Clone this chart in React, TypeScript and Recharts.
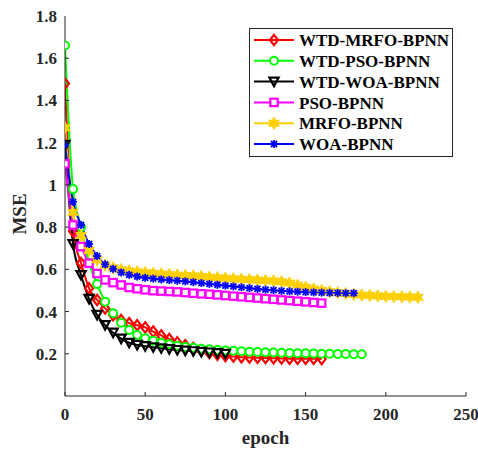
import React from 'react'
import { LineChart, Line, XAxis, YAxis, Legend, Label } from 'recharts'

// MSE per training epoch, one value every 5 epochs
const EPOCH_STEP = 5
const wtdMrfo = [
  1.48, 0.78, 0.63, 0.51, 0.455, 0.415, 0.383, 0.36, 0.345, 0.335,
  0.325, 0.305, 0.287, 0.27, 0.254, 0.24, 0.227, 0.215, 0.204, 0.196,
  0.19, 0.187, 0.184, 0.182, 0.181, 0.18, 0.179, 0.178, 0.177, 0.177,
  0.176, 0.176, 0.175,
]
const wtdPso = [
  1.66, 0.98, 0.8, 0.63, 0.53, 0.447, 0.392, 0.347, 0.313, 0.289,
  0.273, 0.262, 0.252, 0.245, 0.238, 0.232, 0.228, 0.224, 0.221, 0.218,
  0.216, 0.214, 0.212, 0.21, 0.208, 0.207, 0.206, 0.205, 0.204, 0.203,
  0.202, 0.201, 0.2, 0.2, 0.199, 0.199, 0.198, 0.198,
]
const wtdWoa = [
  1.19, 0.72, 0.573, 0.46, 0.384, 0.336, 0.3, 0.272, 0.252, 0.242,
  0.236, 0.231, 0.226, 0.222, 0.218, 0.215, 0.212, 0.209, 0.206, 0.203,
  0.2,
]
const pso = [
  1.1, 0.81, 0.708, 0.629, 0.58, 0.55, 0.537, 0.526, 0.514, 0.508,
  0.503, 0.499, 0.497, 0.495, 0.493, 0.49, 0.487, 0.484, 0.482, 0.479,
  0.476, 0.473, 0.47, 0.467, 0.464, 0.461, 0.458, 0.455, 0.452, 0.449,
  0.446, 0.443, 0.44,
]
const mrfo = [
  1.27, 0.87, 0.76, 0.69, 0.645, 0.62, 0.607, 0.598, 0.592, 0.588,
  0.584, 0.581, 0.578, 0.575, 0.573, 0.571, 0.569, 0.566, 0.563, 0.56,
  0.558, 0.555, 0.553, 0.551, 0.549, 0.547, 0.545, 0.541, 0.535, 0.525,
  0.515, 0.507, 0.5, 0.494, 0.489, 0.485, 0.481, 0.478, 0.476, 0.474,
  0.472, 0.471, 0.47, 0.469, 0.468,
]
const woa = [
  1.19, 0.92, 0.81, 0.72, 0.663, 0.624, 0.602, 0.585, 0.574, 0.566,
  0.56, 0.556, 0.552, 0.549, 0.546, 0.543, 0.539, 0.535, 0.531, 0.527,
  0.523, 0.519, 0.515, 0.511, 0.507, 0.504, 0.501, 0.498, 0.496, 0.494,
  0.492, 0.491, 0.49, 0.489, 0.488, 0.487, 0.487,
]

const xTicks = [0, 50, 100, 150, 200, 250]
const yTicks = [0.2, 0.4, 0.6, 0.8, 1, 1.2, 1.4, 1.6, 1.8]

type Marker = 'diamond' | 'circle' | 'triangle' | 'square' | 'star' | 'asterisk'

const series: { name: string; values: number[]; color: string; marker: Marker }[] = [
  { name: 'WTD-MRFO-BPNN', values: wtdMrfo, color: '#ff0000', marker: 'diamond' },
  { name: 'WTD-PSO-BPNN', values: wtdPso, color: '#00ff00', marker: 'circle' },
  { name: 'WTD-WOA-BPNN', values: wtdWoa, color: '#000000', marker: 'triangle' },
  { name: 'PSO-BPNN', values: pso, color: '#ff00ff', marker: 'square' },
  { name: 'MRFO-BPNN', values: mrfo, color: '#ffd000', marker: 'star' },
  { name: 'WOA-BPNN', values: woa, color: '#0000ff', marker: 'asterisk' },
]

const FONT = '"Liberation Serif", "Times New Roman", serif'
const AXIS = '#262626'
const TICK_IN = 4

function drawMarker(kind: Marker, cx: number, cy: number, color: string, key?: React.Key) {
  switch (kind) {
    case 'diamond':
      return <polygon key={key} points={`${cx},${cy - 5.2} ${cx + 4},${cy} ${cx},${cy + 5.2} ${cx - 4},${cy}`}
        fill="none" stroke={color} strokeWidth={2.2} />
    case 'circle':
      return <circle key={key} cx={cx} cy={cy} r={4} fill="#fff" stroke={color} strokeWidth={2} />
    case 'triangle':
      return <polygon key={key} points={`${cx - 4.6},${cy - 4} ${cx + 4.6},${cy - 4} ${cx},${cy + 4.5}`}
        fill="none" stroke={color} strokeWidth={2.2} />
    case 'square':
      return <rect key={key} x={cx - 3.7} y={cy - 3.7} width={7.4} height={7.4} fill="#fff" stroke={color} strokeWidth={2.2} />
    case 'star': {
      const pts: string[] = []
      for (let i = 0; i < 12; i++) {
        const r = i % 2 === 0 ? 6.2 : 3.2
        const a = (Math.PI / 6) * i - Math.PI / 2
        pts.push(`${cx + r * Math.cos(a)},${cy + r * Math.sin(a)}`)
      }
      return <polygon key={key} points={pts.join(' ')} fill={color} stroke={color} strokeWidth={1} />
    }
    default:
      return (
        <g key={key} stroke={color} strokeWidth={1.8}>
          <line x1={cx - 4} x2={cx + 4} y1={cy} y2={cy} />
          <line x1={cx} x2={cx} y1={cy - 4} y2={cy + 4} />
          <line x1={cx - 3} x2={cx + 3} y1={cy - 3} y2={cy + 3} />
          <line x1={cx - 3} x2={cx + 3} y1={cy + 3} y2={cy - 3} />
        </g>
      )
  }
}

const tickText = { fontFamily: FONT, fontWeight: 700, fontSize: 17, fill: AXIS }

function BottomTick({ x, y, payload }: any) {
  const axisY = y - 12
  return (
    <g>
      <line x1={x} x2={x} y1={axisY} y2={axisY - TICK_IN} stroke={AXIS} />
      <text x={x} y={y} dy="0.71em" textAnchor="middle" style={tickText}>{payload.value}</text>
    </g>
  )
}

function LeftTick({ x, y, payload }: any) {
  const axisX = x + 8
  return (
    <g>
      {payload.value > 0 && payload.value < 1.8 && (
        <line x1={axisX} x2={axisX + TICK_IN} y1={y} y2={y} stroke={AXIS} />
      )}
      <text x={x} y={y} dy="0.355em" textAnchor="end" style={tickText}>{payload.value}</text>
    </g>
  )
}

function TopTick({ x, y }: any) {
  return <line x1={x} x2={x} y1={y} y2={y + TICK_IN} stroke={AXIS} />
}

function RightTick({ x, y, payload }: any) {
  if (payload.value >= 1.8) return <g />
  return <line x1={x} x2={x - TICK_IN} y1={y} y2={y} stroke={AXIS} />
}

function MseLabel({ viewBox }: any) {
  const cx = viewBox.x + 19
  const cy = viewBox.y + viewBox.height / 2 + 8
  return (
    <text x={0} y={0} transform={`translate(${cx},${cy}) rotate(-90)`} textAnchor="middle"
      dominantBaseline="central" style={{ fontFamily: FONT, fontWeight: 700, fontSize: 19, fill: AXIS }}>
      MSE
    </text>
  )
}

function LegendBox() {
  const w = 204
  const h = 129
  return (
    <svg width={w} height={h} style={{ display: 'block' }}>
      <rect x={0.5} y={0.5} width={w - 1} height={h - 1} fill="#fff" stroke={AXIS} strokeWidth={1} />
      {series.map((s, i) => {
        const cy = 12 + i * 20.8
        return (
          <g key={s.name}>
            <line x1={5} x2={45} y1={cy} y2={cy} stroke={s.color} strokeWidth={2} />
            {drawMarker(s.marker, 25, cy, s.color)}
            <text x={50} y={cy} dy="0.36em" style={{ ...tickText, fill: '#000' }}>{s.name}</text>
          </g>
        )
      })}
    </svg>
  )
}

export default function App() {
  return (
    <div style={{ position: 'absolute', left: 0, top: 0, width: 478, height: 451, background: '#fff' }}>
      <LineChart width={478} height={451} margin={{ top: 16, right: 12, left: 0, bottom: 0 }}
        style={{ fontFamily: FONT }}>
        <XAxis type="number" dataKey="epoch" domain={[0, 250]} ticks={xTicks} interval={0}
          height={55} tickSize={0} tickMargin={12} tick={(p: any) => <BottomTick {...p} />}
          axisLine={{ stroke: AXIS }} tickLine={false} allowDataOverflow>
          <Label value="epoch" position="insideBottom" offset={7}
            style={{ fontFamily: FONT, fontWeight: 700, fontSize: 19, fill: AXIS }} />
        </XAxis>
        <XAxis xAxisId="top" orientation="top" type="number" domain={[0, 250]} ticks={xTicks}
          interval={0} height={0} tickSize={0} tickMargin={0} tick={(p: any) => <TopTick {...p} />}
          axisLine={{ stroke: AXIS }} tickLine={false} allowDataOverflow />
        <YAxis type="number" domain={[0, 1.8]} ticks={yTicks} interval={0} width={65}
          tickSize={0} tickMargin={8} tick={(p: any) => <LeftTick {...p} />}
          axisLine={{ stroke: AXIS }} tickLine={false} allowDataOverflow>
          <Label content={(p: any) => <MseLabel {...p} />} />
        </YAxis>
        <YAxis yAxisId="right" orientation="right" type="number" domain={[0, 1.8]} ticks={yTicks}
          interval={0} width={0} tickSize={0} tickMargin={0} tick={(p: any) => <RightTick {...p} />}
          axisLine={{ stroke: AXIS }} tickLine={false} allowDataOverflow />
        <Legend layout="vertical" align="center" verticalAlign="middle"
          wrapperStyle={{ position: 'absolute', left: 249, top: 28, width: 204, height: 129 }}
          content={() => <LegendBox />} />
        {series.map(s => (
          <Line key={s.name} name={s.name} type="monotone" dataKey="mse"
            data={s.values.map((v, i) => ({ epoch: i * EPOCH_STEP, mse: v }))}
            stroke={s.color} strokeWidth={2}
            dot={(p: any) => drawMarker(s.marker, p.cx, p.cy, s.color, `${s.name}-${p.index}`)}
            activeDot={false} isAnimationActive={false} />
        ))}
      </LineChart>
    </div>
  )
}
